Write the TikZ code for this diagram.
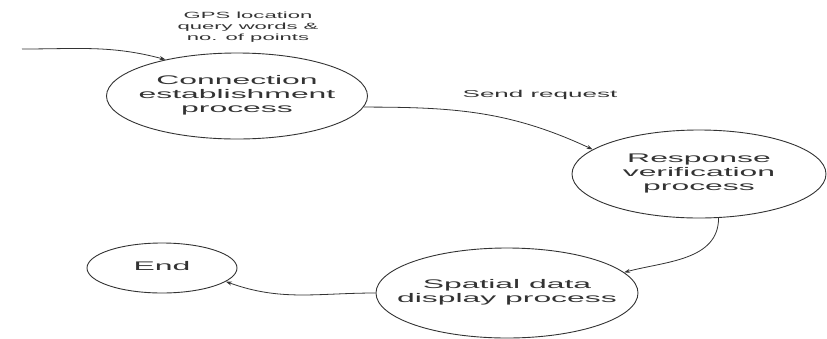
\documentclass[tikz,border=0pt]{standalone}
\usepackage{fontspec}
\setmainfont{Liberation Sans}
\usepackage{graphicx}
\usetikzlibrary{shapes.geometric,arrows.meta}

% wide, horizontally stretched multi-line label of zero width
\newcommand{\widetext}[2][2.55]{\makebox[0pt]{\scalebox{#1}[1]{\begin{tabular}{@{}c@{}}#2\end{tabular}}}}

\tikzset{
  proc/.style={ellipse, draw=black!80, line width=0.9pt, inner sep=0pt,
    text=black!80, font=\fontsize{12.5}{14}\selectfont},
  note/.style={text=black!80, inner sep=0pt},
  flow/.style={draw=black!80, line width=0.8pt,
    -{Stealth[length=6pt,width=4pt]}},
}

\begin{document}
\begin{tikzpicture}[x=1pt, y=-1pt]
  \useasboundingbox (0,0) rectangle (827,338);

  % processes
  \node[proc, minimum width=261pt, minimum height=86pt] (conn) at (237,96)
    {\widetext{Connection\\establishment\\process}};
  \node[proc, minimum width=254pt, minimum height=88pt] (resp) at (699,174)
    {\widetext{Response\\verification\\process}};
  \node[proc, minimum width=262pt, minimum height=90pt] (spat) at (507,293)
    {\widetext{Spatial data\\display process}};
  \node[proc, minimum width=150pt, minimum height=50pt] (fin) at (162,268)
    {\widetext{End}};

  % flow labels
  \node[note, font=\fontsize{9}{11}\selectfont] (gps) at (248,27)
    {\widetext[2.45]{GPS location\\query words \&\\no. of points}};
  \node[note, font=\fontsize{10}{12}\selectfont] (send) at (540,95)
    {\widetext[2.6]{Send request}};

  % entry point of the flow
  \coordinate (src) at (22,49);

  % connectors
  \draw[flow] (src) to[out=0, in=165] (conn.153);
  \draw[flow] (conn.-5) to[out=0, in=155] (resp.167);
  \draw[flow] (resp.-66) to[out=-90, in=15] (spat.10);
  \draw[flow] (spat.west) to[out=180, in=-20] (fin.-12);
\end{tikzpicture}
\end{document}
